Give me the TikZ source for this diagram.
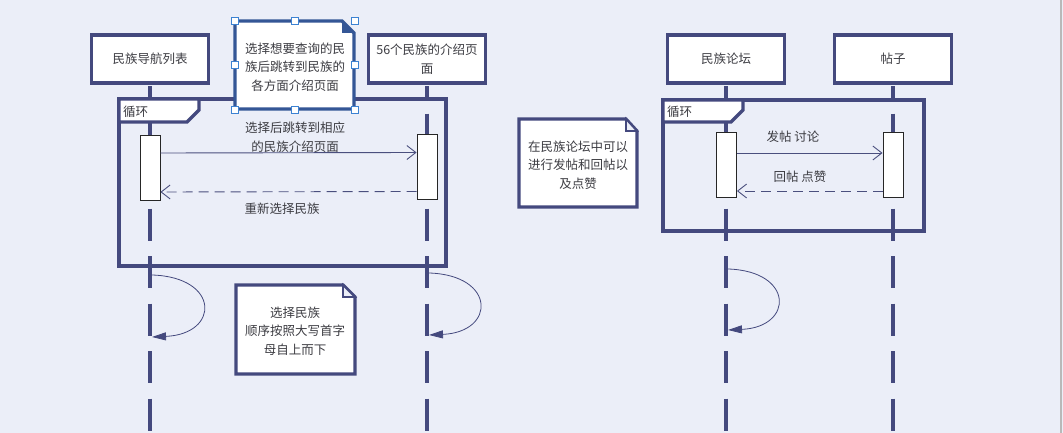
\documentclass[tikz,border=0pt]{standalone}
\usepackage{fontspec}
\setmainfont{Noto Sans CJK SC}
\usetikzlibrary{calc,arrows.meta,positioning}
\definecolor{bgc}{RGB}{235,238,248}
\definecolor{navy}{RGB}{68,73,126}
\definecolor{selblue}{RGB}{52,86,150}
\definecolor{hdl}{RGB}{60,130,210}
\definecolor{txt}{RGB}{60,60,66}

\tikzset{
  obj/.style={draw=navy,line width=3.2pt,fill=white,minimum width=117pt,minimum height=48pt,
    align=center,text=txt,font=\fontsize{12.5}{19}\selectfont},
  life/.style={navy,line width=3.2pt,dash pattern=on 32pt off 15.5pt,dash phase=20pt},
  act/.style={draw=black!85,line width=0.9pt,fill=white,minimum width=20pt,minimum height=65pt,inner sep=0pt},
  frm/.style={draw=navy,line width=3.2pt},
  msg/.style={navy!90!gray,line width=0.9pt,-{Straight Barb[length=9pt,width=14pt]}},
  ret/.style={msg,dash pattern=on 10pt off 6pt},
  selfloop/.style={navy,line width=0.8pt,-{Triangle[length=14pt,width=8pt]}},
  lbl/.style={text=txt,font=\fontsize{12.5}{18.5}\selectfont,align=center,inner sep=0pt},
  notebox/.style={draw=navy,line width=3.2pt,fill=white},
  notefold/.style={draw=navy,line width=1.8pt,fill=bgc},
  hnd/.style={draw=hdl,fill=white,line width=0.9pt,minimum size=7pt,inner sep=0pt},
}

\begin{document}
\begin{tikzpicture}[x=1pt,y=-1pt]

\useasboundingbox (0,0) rectangle (1063,433);
\fill[bgc] (0,0) rectangle (1063,433);
\draw[gray!55,line width=1.2pt] (1061,0) -- (1061,433);

% objects
\node[obj] (nav) at (150,59) {民族导航列表};
\node[obj] (intro) at (427,59) {56个民族的介绍页\\面};
\node[obj] (forum) at (726,59) {民族论坛};
\node[obj] (post) at (893,59) {帖子};

% lifelines
\foreach \o in {nav,intro,forum,post}
  \draw[life] ([yshift=-1.6pt]\o.south) -- (\o.south |- 0,433);

% loop frames
\draw[frm] (119,99) rectangle (446,266);
\draw[frm,fill=white] (119,99) -- (199,99) -- (199,110) -- (187,122) -- (119,122) -- cycle;
\node[lbl,anchor=west] (loop1) at (123,112) {循环};

\draw[frm] (663,100) rectangle (924,231);
\draw[frm,fill=white] (663,100) -- (743,100) -- (743,110) -- (731,122) -- (663,122) -- cycle;
\node[lbl,anchor=west] (loop2) at (667,112) {循环};

% activations
\node[act] (a1) at (150,167.5) {};
\node[act] (a2) at (427,167) {};
\node[act] (a3) at (726.5,165) {};
\node[act] (a4) at (893,165) {};

% messages
\draw[msg] ([yshift=14.5pt]a1.east) -- ([yshift=14.5pt]a2.west);
\node[lbl] (m1) at (295,137) {选择后跳转到相应\\的民族介绍页面};
\draw[ret] ([yshift=-24.5pt]a2.west) -- ([yshift=-24.5pt]a1.east);
\node[lbl] (m2) at (282,209) {重新选择民族};

\draw[msg] ([yshift=12pt]a3.east) -- ([yshift=12pt]a4.west);
\node[lbl] (m3) at (793,137) {发帖 讨论};
\draw[ret] ([yshift=-26pt]a4.west) -- ([yshift=-26pt]a3.east);
\node[lbl] (m4) at (800,177) {回帖 点赞};

% self messages
\coordinate (s1a) at (152,275);
\coordinate (s1b) at (152,337);
\draw[selfloop] (s1a) .. controls (220,277) and (220,334) .. (s1b);
\coordinate (s2a) at (429,273);
\coordinate (s2b) at (429,335);
\draw[selfloop] (s2a) .. controls (496,275) and (496,332) .. (s2b);
\coordinate (s3a) at (728,269);
\coordinate (s3b) at (728,330);
\draw[selfloop] (s3a) .. controls (794,271) and (794,327) .. (s3b);

% notes
\draw[notebox,draw=selblue] (235,21) -- (342,21) -- (354,33) -- (354,109) -- (235,109) -- cycle;
\fill[selblue] (342,21) -- (342,33) -- (354,33) -- cycle;
\node[lbl] (n1) at (295,67) {选择想要查询的民\\族后跳转到民族的\\各方面介绍页面};
\foreach \x/\y in {235/21,295/21,355/21,235/65,355/65,235/110,295/110,355/110}
  \node[hnd] (h-\x-\y) at (\x,\y) {};

\draw[notebox] (236,285) -- (343,285) -- (355,297) -- (355,374) -- (236,374) -- cycle;
\draw[notefold] (343,285) -- (343,297) -- (355,297) -- cycle;
\node[lbl] (n2) at (295,331) {选择民族\\顺序按照大写首字\\母自上而下};

\draw[notebox] (519,119) -- (626,119) -- (637,131) -- (637,207) -- (519,207) -- cycle;
\draw[notefold] (626,119) -- (626,131) -- (637,131) -- cycle;
\node[lbl] (n3) at (578,165) {在民族论坛中可以\\进行发帖和回帖以\\及点赞};

\end{tikzpicture}
\end{document}
